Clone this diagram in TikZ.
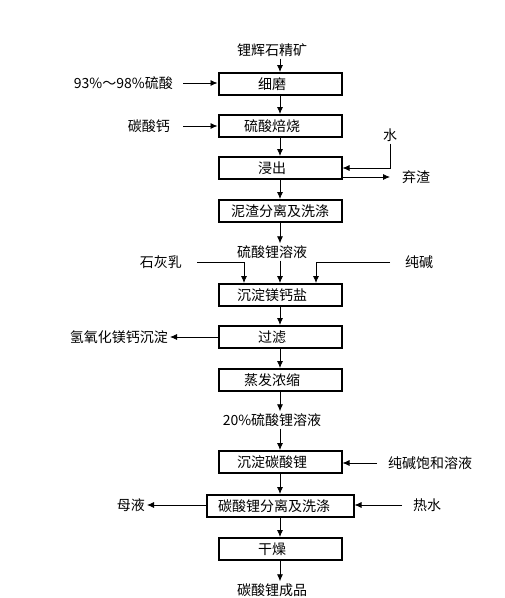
\documentclass[tikz,border=0pt]{standalone}
\usepackage{fontspec}
\setmainfont{Noto Sans CJK SC}
\usetikzlibrary{arrows.meta}
\begin{document}
\begin{tikzpicture}[x=1pt,y=-1pt]
  \tikzstyle{every node}=[font=\fontsize{14}{16}\selectfont, text=black, inner sep=2pt]
  \tikzstyle{box}=[draw=black, line width=2pt, minimum width=123pt, minimum height=22pt, inner sep=0pt]
  \tikzstyle{boxl}=[box, execute at end node={\hspace{16pt}}]
  \tikzstyle{arrow}=[-{Latex[length=7pt,width=6pt]}, line width=0.8pt]

  \useasboundingbox (0,0) rectangle (505,598);

  % main line
  \node (ore) at (272,50) {锂辉石精矿};
  \node[boxl] (grind) at (280,84) {细磨};
  \node[boxl] (roast) at (280,126) {硫酸焙烧};
  \node[boxl] (leach) at (280,168) {浸出};
  \node[box] (sep) at (280,211) {泥渣分离及洗涤};
  \node (sol) at (272,252) {硫酸锂溶液};
  \node[boxl] (precip) at (280,295) {沉淀镁钙盐};
  \node[boxl] (filt) at (280,337) {过滤};
  \node[boxl] (evap) at (280,380) {蒸发浓缩};
  \node (conc) at (272,420) {20\%硫酸锂溶液};
  \node[boxl] (carb) at (280,462) {沉淀碳酸锂};
  \node[box, minimum width=147pt, execute at end node={\hspace{12pt}}] (wash) at (280,506) {碳酸锂分离及洗涤};
  \node[boxl] (dry) at (280,549) {干燥};
  \node (prod) at (272,590) {碳酸锂成品};

  % side streams
  \node[anchor=east] (acid) at (175,83) {93\%～98\%硫酸};
  \node[anchor=east] (caco) at (172,126) {碳酸钙};
  \node (water) at (390,135) {水};
  \node[anchor=west] (residue) at (400,177) {弃渣};
  \node[anchor=east] (lime) at (184,262) {石灰乳};
  \node[anchor=west] (soda) at (403,262) {纯碱};
  \node[anchor=east] (hydrox) at (170,337) {氢氧化镁钙沉淀};
  \node[anchor=west] (satsoda) at (386,463) {纯碱饱和溶液};
  \node[anchor=east] (mother) at (147,505) {母液};
  \node[anchor=west] (hot) at (411,505) {热水};

  \draw[arrow] (ore.south -| grind.north) -- (grind.north);
  \draw[arrow] (grind) -- (roast);
  \draw[arrow] (roast) -- (leach);
  \draw[arrow] (leach) -- (sep);
  \draw[arrow] (sep.south) -- (sep.south |- sol.north);
  \draw[arrow] (sol.south -| precip.north) -- (precip.north);
  \draw[arrow] (precip) -- (filt);
  \draw[arrow] (filt) -- (evap);
  \draw[arrow] (evap.south) -- (evap.south |- conc.north);
  \draw[arrow] (conc.south -| carb.north) -- (carb.north);
  \draw[arrow] (carb) -- (wash);
  \draw[arrow] (wash) -- (dry);
  \draw[arrow] (dry.south) -- (dry.south |- prod.north);

  \draw[arrow, shorten <=8pt] (acid.east) -- (acid.east -| grind.west);
  \draw[arrow, shorten <=11pt] (caco.east) -- (caco.east -| roast.west);
  \draw[arrow] (water) |- (leach.east);
  \draw[arrow, shorten >=10pt] (leach.east |- residue) -- (residue.west);
  \draw[arrow, shorten <=13pt] (lime.east) -| ([xshift=-36]precip.north);
  \draw[arrow, shorten <=13pt] (soda.west) -| ([xshift=36]precip.north);
  \draw[arrow] (filt.west |- hydrox) -- (hydrox.east);
  \draw[arrow, shorten <=9pt] (satsoda.west) -- (satsoda.west -| carb.east);
  \draw[arrow] (wash.west |- mother) -- (mother.east);
  \draw[arrow, shorten <=9pt] (hot.west) -- (hot.west -| wash.east);
\end{tikzpicture}
\end{document}
